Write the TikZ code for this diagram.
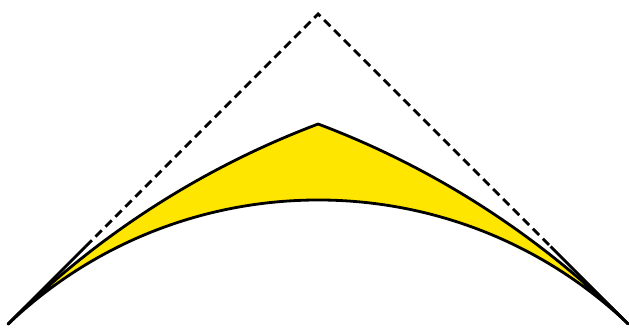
\documentclass[tikz,border=0pt]{standalone}
\usepackage{tikz}
\definecolor{lensyellow}{RGB}{255,230,0}

\begin{document}
\begin{tikzpicture}[x=3.1cm,y=3.1cm]
    \useasboundingbox (-1.026,-0.01) rectangle (1.003,1.045);

    % 三角形顶点
    \coordinate (A) at (-1,0);
    \coordinate (B) at (0,1);
    \coordinate (C) at (1,0);
    \coordinate (P) at (0,0.645);

    % 实线与虚线分界点
    \coordinate (D) at (-0.75,0.25);
    \coordinate (E) at (0.75,0.25);

    % 黄色区域
    \draw[thick,fill=lensyellow,line join=round]
        (A) arc[start angle=135,end angle=110.64,radius=2.8205]
        arc[start angle=69.36,end angle=45,radius=2.8205]
        arc[start angle=46.40,end angle=133.60,radius=1.45] -- cycle;

    % 两腰
    \draw[thick] (A) -- (D);
    \draw[thick] (C) -- (E);
    \draw[thick,dash pattern=on 2.5pt off 1.5pt] (D) -- (B) -- (E);
\end{tikzpicture}
\end{document}
